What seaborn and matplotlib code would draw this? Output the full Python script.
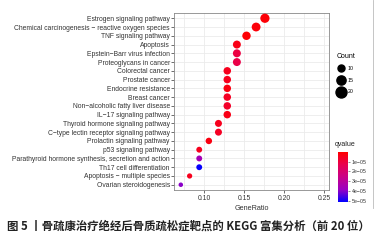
import numpy as np
import pandas as pd
import seaborn as sns
import matplotlib.pyplot as plt
import matplotlib as mpl
from matplotlib.colors import LinearSegmentedColormap, Normalize
from matplotlib.lines import Line2D

pathways = [
    "Estrogen signaling pathway",
    "Chemical carcinogenesis \u2212 reactive oxygen species",
    "TNF signaling pathway",
    "Apoptosis",
    "Epstein\u2212Barr virus infection",
    "Proteoglycans in cancer",
    "Colorectal cancer",
    "Prostate cancer",
    "Endocrine resistance",
    "Breast cancer",
    "Non\u2212alcoholic fatty liver disease",
    "IL\u221217 signaling pathway",
    "Thyroid hormone signaling pathway",
    "C\u2212type lectin receptor signaling pathway",
    "Prolactin signaling pathway",
    "p53 signaling pathway",
    "Parathyroid hormone synthesis, secretion and action",
    "Th17 cell differentiation",
    "Apoptosis \u2212 multiple species",
    "Ovarian steroidogenesis",
]
gene_ratio = [0.176, 0.165, 0.153, 0.141, 0.141, 0.141, 0.129, 0.129, 0.129, 0.129,
              0.129, 0.129, 0.118, 0.118, 0.106, 0.094, 0.094, 0.094, 0.082, 0.071]
count = [15, 14, 13, 12, 12, 12, 11, 11, 11, 11, 11, 11, 10, 10, 9, 8, 8, 8, 7, 6]
qvalue = [1.5e-6, 2e-6, 1e-6, 4e-6, 1.1e-5, 1.2e-5, 5e-6, 5e-6, 3e-6, 6e-6,
          7e-6, 4e-6, 5e-6, 6e-6, 3e-6, 5e-6, 3.6e-5, 5.1e-5, 5e-6, 4.0e-5]
legend_counts = [10, 15, 20]
cbar_ticks = [1e-5, 2e-5, 3e-5, 4e-5, 5e-5]

df = pd.DataFrame({"Pathway": pathways, "GeneRatio": gene_ratio,
                   "Count": count, "qvalue": qvalue})

cmap = LinearSegmentedColormap.from_list(
    "rb", ["#FF0000", "#E8004F", "#C90088", "#9A00C2", "#0000FF"])
qmin, qmax = 2e-7, 5.15e-5
size_range = (10.5, 62.7)
size_norm = (6, 20)

plt.rcParams["font.family"] = ["Liberation Sans", "DejaVu Sans"]
fig = plt.figure(figsize=(3.84, 2.4), dpi=100)
ax = fig.add_axes([174 / 384, 1 - 190 / 240, 155 / 384, 177 / 240])

sns.scatterplot(data=df, x="GeneRatio", y="Pathway", hue="qvalue", palette=cmap,
                hue_norm=(qmin, qmax), size="Count", sizes=size_range,
                size_norm=size_norm, linewidth=0, legend=False, ax=ax, zorder=3)

ax.set_xlim(0.0625, 0.256)
ax.set_ylim(19.6, -0.6)
ax.set_xticks([0.10, 0.15, 0.20, 0.25])
ax.set_xticklabels(["0.10", "0.15", "0.20", "0.25"])
ax.set_xticks([0.075, 0.125, 0.175, 0.225], minor=True)
ax.grid(True, which="both", color="#EBEBEB", linewidth=0.6, zorder=0)
ax.set_axisbelow(True)
ax.tick_params(axis="y", labelsize=4.9, colors="#333333", length=2, width=0.5, pad=1)
ax.tick_params(axis="x", labelsize=4.9, colors="#333333", length=2, width=0.5, pad=1.5)
ax.tick_params(axis="x", which="minor", length=0)
for s in ax.spines.values():
    s.set_color("#888888")
    s.set_linewidth(0.6)
ax.set_xlabel("GeneRatio", fontsize=5.2, color="#333333", labelpad=2)
ax.set_ylabel("")

# size legend
def marker_d(c):
    s = size_range[0] + (c - size_norm[0]) / (size_norm[1] - size_norm[0]) * (size_range[1] - size_range[0])
    return np.sqrt(s)

handles = [Line2D([], [], marker="o", linestyle="", color="black", markersize=marker_d(c))
           for c in legend_counts]
leg = fig.legend(handles, [str(c) for c in legend_counts], title="Count", loc="upper left",
                 bbox_to_anchor=(334 / 384, 1 - 50 / 240), frameon=False,
                 fontsize=3.8, title_fontsize=5, labelspacing=1.25,
                 handletextpad=0.5, handlelength=1.6, borderpad=0)
leg._legend_box.align = "left"

# colour bar
cax = fig.add_axes([338 / 384, 1 - 202 / 240, 10 / 384, 50 / 240])
cb = mpl.colorbar.ColorbarBase(cax, cmap=cmap, norm=Normalize(qmin, qmax))
cb.set_ticks(cbar_ticks)
cb.set_ticklabels([f"{t:.0e}".replace("-", "\u2212") for t in cbar_ticks])
cb.ax.invert_yaxis()
cb.ax.tick_params(labelsize=3.8, colors="#333333", length=1.5, width=0.4, pad=1)
cb.outline.set_visible(False)
fig.text(335 / 384, 1 - 145 / 240, "qvalue", fontsize=5, color="#222222", va="center")

fig.add_artist(Line2D([373 / 384, 373 / 384], [1 - 208 / 240, 1.0], color="#BBBBBB",
                      linewidth=0.6, transform=fig.transFigure))

fig.text(7 / 384, 1 - 226 / 240,
         "图 5 丨骨疏康治疗绝经后骨质疏松症靶点的 KEGG 富集分析（前 20 位）",
         fontsize=8.2, fontweight="bold", color="#222222", va="center",
         family=["Noto Sans CJK SC", "DejaVu Sans"])

fig.savefig("out.png", dpi=100)
